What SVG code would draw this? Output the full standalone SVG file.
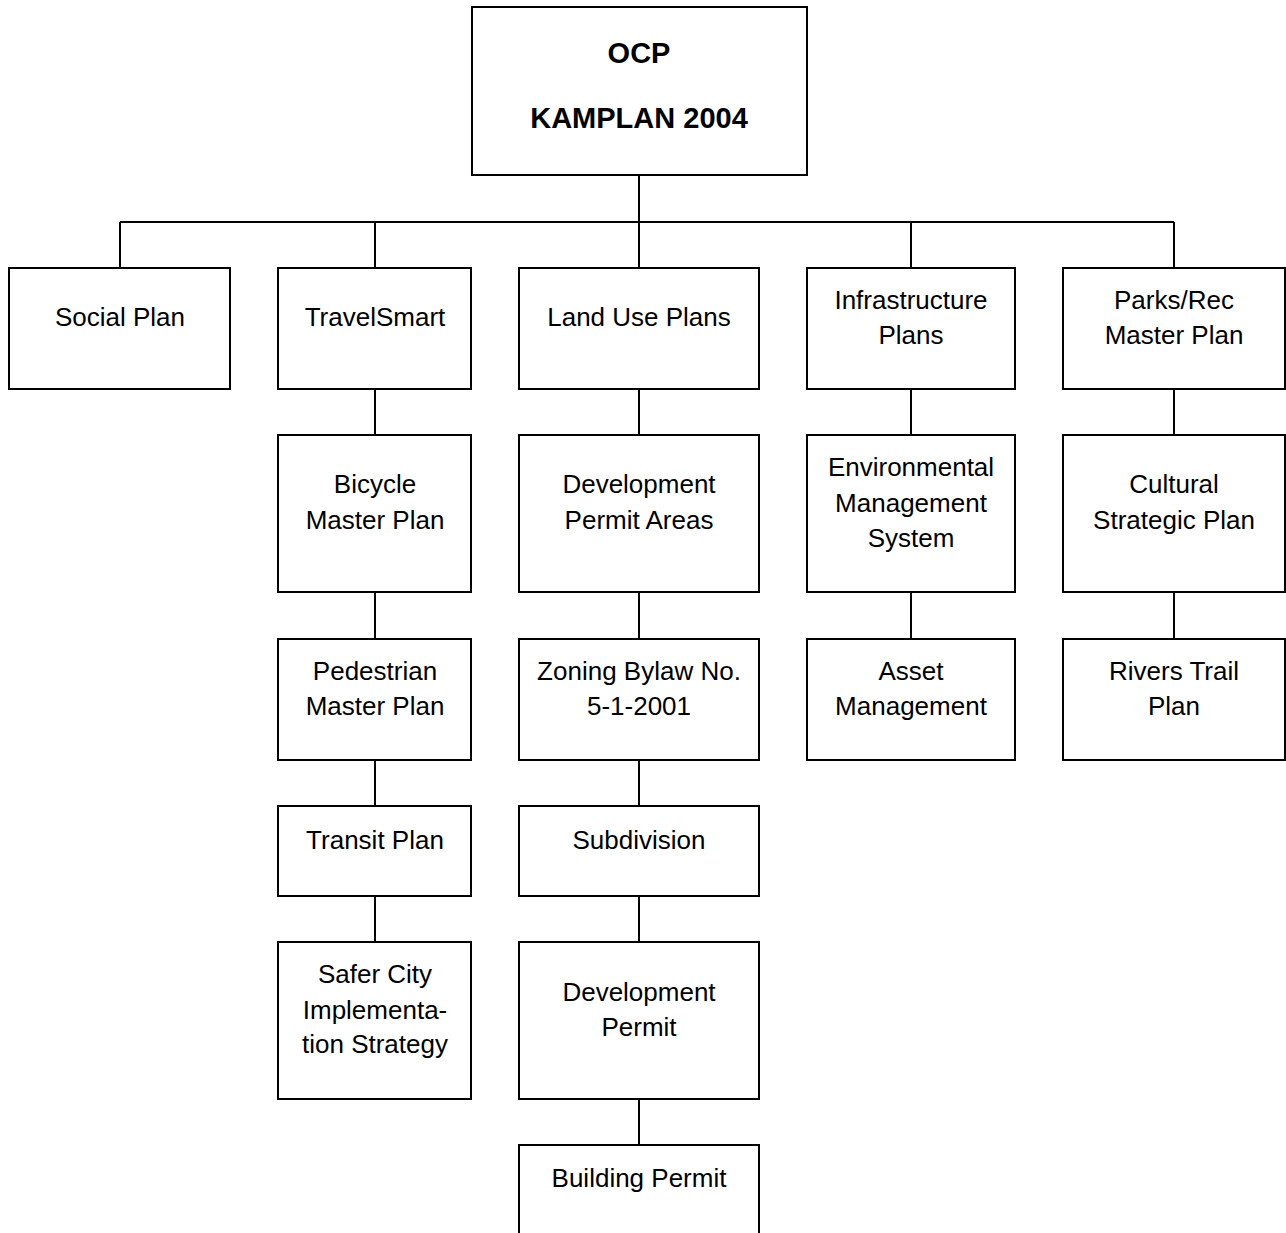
<svg xmlns="http://www.w3.org/2000/svg" width="1286" height="1233" viewBox="0 0 1286 1233">
<style>
.box{fill:#fff;stroke:#000;stroke-width:2}
.con{stroke:#000;stroke-width:2;fill:none}
text{font-family:"Liberation Sans",Arial,sans-serif;font-size:26px;fill:#000;text-anchor:middle}
.b{font-weight:bold;font-size:29px}
</style>
<rect width="1286" height="1233" fill="#fff"/>
<g id="connectors" class="con">
<path d="M639 175V222M120 222H1174M120 222V268M375 222V268M639 222V268M911 222V268M1174 222V268"/>
<path d="M375 389V435M375 592V639M375 760V806M375 896V942"/>
<path d="M639 389V435M639 592V639M639 760V806M639 896V942M639 1099V1145"/>
<path d="M911 389V435M911 592V639"/>
<path d="M1174 389V435M1174 592V639"/>
</g>
<g id="ocp"><rect class="box" x="472" y="7" width="335" height="168"/><text class="b" x="639" y="63">OCP</text><text class="b" x="639" y="128">KAMPLAN 2004</text></g>
<g id="social"><rect class="box" x="9" y="268" width="221" height="121"/><text x="120" y="326">Social Plan</text></g>
<g id="travelsmart"><rect class="box" x="278" y="268" width="193" height="121"/><text x="375" y="326">TravelSmart</text></g>
<g id="landuse"><rect class="box" x="519" y="268" width="240" height="121"/><text x="639" y="326">Land Use Plans</text></g>
<g id="infrastructure"><rect class="box" x="807" y="268" width="208" height="121"/><text x="911" y="309">Infrastructure</text><text x="911" y="344">Plans</text></g>
<g id="parks"><rect class="box" x="1063" y="268" width="222" height="121"/><text x="1174" y="309">Parks/Rec</text><text x="1174" y="344">Master Plan</text></g>
<g id="bicycle"><rect class="box" x="278" y="435" width="193" height="157"/><text x="375" y="493">Bicycle</text><text x="375" y="529">Master Plan</text></g>
<g id="dpa"><rect class="box" x="519" y="435" width="240" height="157"/><text x="639" y="493">Development</text><text x="639" y="529">Permit Areas</text></g>
<g id="ems"><rect class="box" x="807" y="435" width="208" height="157"/><text x="911" y="476">Environmental</text><text x="911" y="512">Management</text><text x="911" y="547">System</text></g>
<g id="cultural"><rect class="box" x="1063" y="435" width="222" height="157"/><text x="1174" y="493">Cultural</text><text x="1174" y="529">Strategic Plan</text></g>
<g id="pedestrian"><rect class="box" x="278" y="639" width="193" height="121"/><text x="375" y="680">Pedestrian</text><text x="375" y="715">Master Plan</text></g>
<g id="zoning"><rect class="box" x="519" y="639" width="240" height="121"/><text x="639" y="680">Zoning Bylaw No.</text><text x="639" y="715">5-1-2001</text></g>
<g id="asset"><rect class="box" x="807" y="639" width="208" height="121"/><text x="911" y="680">Asset</text><text x="911" y="715">Management</text></g>
<g id="rivers"><rect class="box" x="1063" y="639" width="222" height="121"/><text x="1174" y="680">Rivers Trail</text><text x="1174" y="715">Plan</text></g>
<g id="transit"><rect class="box" x="278" y="806" width="193" height="90"/><text x="375" y="849">Transit Plan</text></g>
<g id="subdivision"><rect class="box" x="519" y="806" width="240" height="90"/><text x="639" y="849">Subdivision</text></g>
<g id="safercity"><rect class="box" x="278" y="942" width="193" height="157"/><text x="375" y="983">Safer City</text><text x="375" y="1019">Implementa-</text><text x="375" y="1053">tion Strategy</text></g>
<g id="devpermit"><rect class="box" x="519" y="942" width="240" height="157"/><text x="639" y="1001">Development</text><text x="639" y="1036">Permit</text></g>
<g id="building"><rect class="box" x="519" y="1145" width="240" height="121"/><text x="639" y="1187">Building Permit</text></g>
</svg>
